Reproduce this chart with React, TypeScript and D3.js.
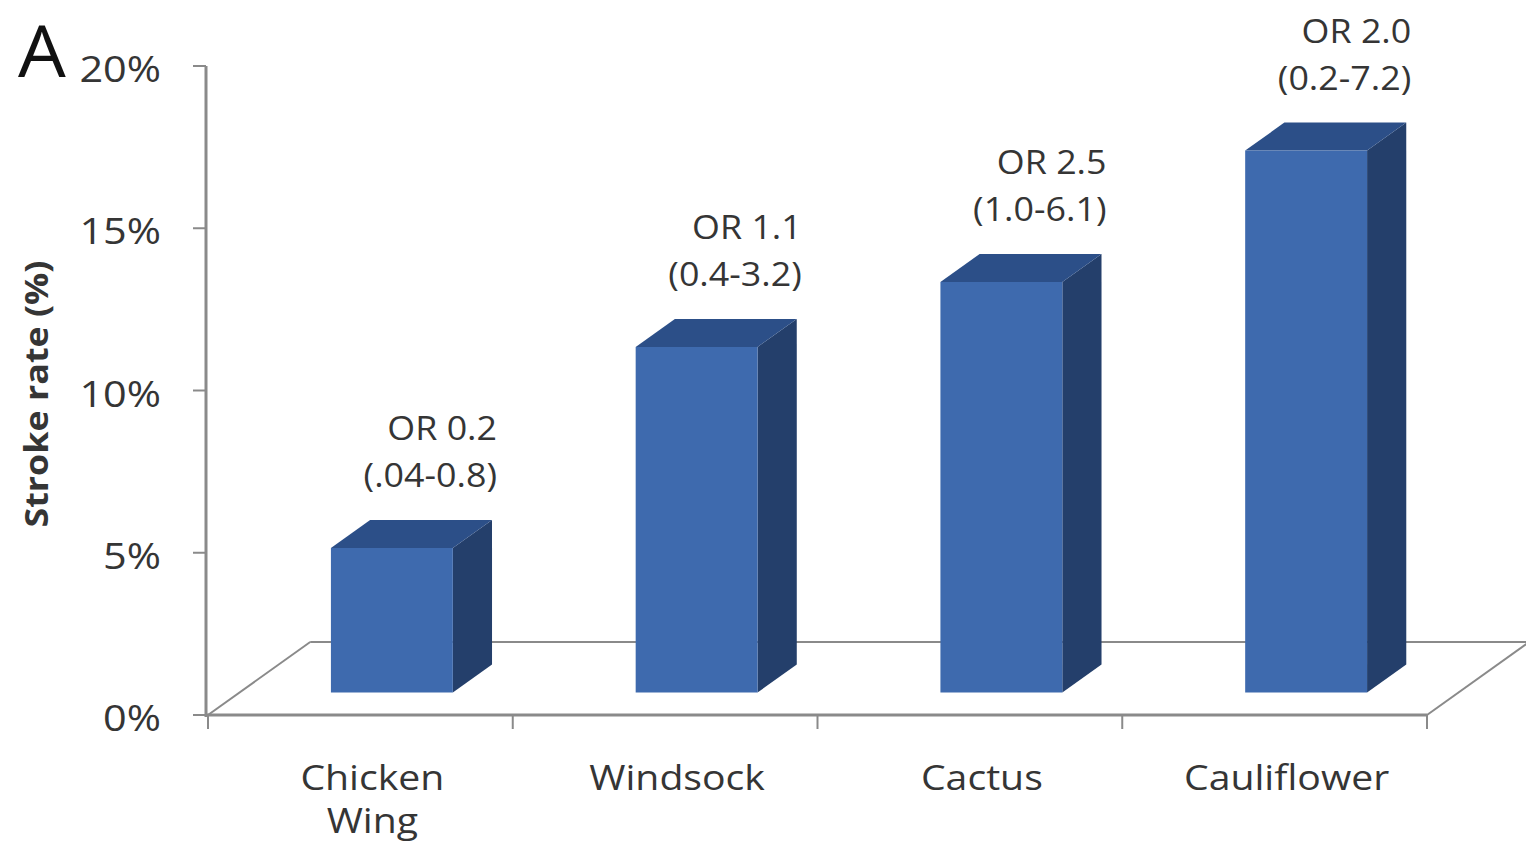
import * as d3 from 'd3';

// Stroke rate by bar shape, with odds ratios
const categories = ['Chicken Wing', 'Windsock', 'Cactus', 'Cauliflower'];
const categoryLines = [['Chicken', 'Wing'], ['Windsock'], ['Cactus'], ['Cauliflower']];
const strokeRates = [4.45, 10.65, 12.65, 16.7];
const oddsRatios = ['OR 0.2', 'OR 1.1', 'OR 2.5', 'OR 2.0'];
const confIntervals = ['(.04-0.8)', '(0.4-3.2)', '(1.0-6.1)', '(0.2-7.2)'];
const yTicks = [0, 5, 10, 15, 20];

const W = 1526;
const H = 852;
const FONT = '"Open Sans", "Noto Sans", sans-serif';
const TEXT = '#353535';
const AXIS = '#8a8a8a';
const SX = 1.12; // text in the source is a bit wide

// oblique 3D: depth moves right and up
const SLANT = 1.4;
const FLOOR_DEPTH = 73;
const BAR_FRONT = 22.5;
const BAR_BACK = 50.5;

const x = d3.scaleBand().domain(categories).range([208, 1427]).padding(0);
const y = d3.scaleLinear().domain([0, 20]).range([715, 66]);

const proj = (px: number, v: number, d: number): [number, number] => [px + SLANT * d, y(v) - d];
const poly = (pts: [number, number][]) => pts.map(p => p.join(',')).join(' ');

function Txt(props: any) {
  const { x: tx, y: ty, anchor = 'middle', size, weight = 'normal', fill = TEXT, rotate = 0, sx = SX, children } = props;
  return (
    <text
      transform={`translate(${tx},${ty}) rotate(${rotate}) scale(${sx},1)`}
      textAnchor={anchor}
      fontFamily={FONT}
      fontSize={size}
      fontWeight={weight}
      fill={fill}
    >
      {children}
    </text>
  );
}

export default function App() {
  const bw = x.bandwidth();
  const barW = bw * 0.4;
  const back = (px: number) => proj(px, 0, FLOOR_DEPTH);

  return (
    <svg width={W} height={H} style={{ position: 'absolute', left: 0, top: 0, background: '#fff' }}>
      {/* floor */}
      <g stroke={AXIS} strokeWidth={2} fill="none">
        <line x1={back(208)[0]} y1={back(208)[1]} x2={back(1427)[0]} y2={back(1427)[1]} />
        <line x1={208} y1={y(0)} x2={back(208)[0]} y2={back(208)[1]} />
        <line x1={1427} y1={y(0)} x2={back(1427)[0]} y2={back(1427)[1]} />
      </g>

      {/* bars */}
      {categories.map((c, i) => {
        const cx = x(c)! + bw / 2;
        const x0 = cx - barW / 2;
        const x1 = cx + barW / 2;
        const v = strokeRates[i];
        const front = poly([proj(x0, 0, BAR_FRONT), proj(x1, 0, BAR_FRONT), proj(x1, v, BAR_FRONT), proj(x0, v, BAR_FRONT)]);
        const top = poly([proj(x0, v, BAR_FRONT), proj(x1, v, BAR_FRONT), proj(x1, v, BAR_BACK), proj(x0, v, BAR_BACK)]);
        const side = poly([proj(x1, 0, BAR_FRONT), proj(x1, 0, BAR_BACK), proj(x1, v, BAR_BACK), proj(x1, v, BAR_FRONT)]);
        const [lx, ly] = proj(x1, v, BAR_BACK);
        return (
          <g key={c}>
            <polygon points={side} fill="#243f6b" />
            <polygon points={top} fill="#2c4f88" />
            <polygon points={front} fill="#3e6aae" />
            <Txt x={lx + 5} y={ly - 80} anchor="end" size={32}>{oddsRatios[i]}</Txt>
            <Txt x={lx + 5} y={ly - 33} anchor="end" size={32}>{confIntervals[i]}</Txt>
          </g>
        );
      })}

      {/* x axis */}
      <g stroke={AXIS} strokeWidth={3}>
        <line x1={206} y1={y(0)} x2={1427} y2={y(0)} />
        {[...categories.map(c => x(c)!), 1427].map((t, i) => (
          <line key={i} x1={t} y1={y(0)} x2={t} y2={y(0) + 14} strokeWidth={2} />
        ))}
      </g>
      {categories.map((c, i) =>
        categoryLines[i].map((line, j) => (
          <Txt key={c + j} x={x(c)! + bw / 2 + 12} y={790 + j * 43} size={35}>{line}</Txt>
        ))
      )}

      {/* y axis */}
      <g stroke={AXIS} strokeWidth={3}>
        <line x1={206} y1={y(20)} x2={206} y2={y(0) + 2} />
        {yTicks.map(t => (
          <line key={t} x1={193} y1={y(t)} x2={206} y2={y(t)} strokeWidth={2} />
        ))}
      </g>
      {yTicks.map(t => (
        <Txt key={t} x={161} y={y(t) + 16} anchor="end" size={37}>{`${t}%`}</Txt>
      ))}
      <Txt x={48} y={394} rotate={-90} size={32} weight="bold" sx={1.12}>Stroke rate (%)</Txt>

      <Txt x={18} y={77} anchor="start" size={72} fill="#111" sx={1.05}>A</Txt>
    </svg>
  );
}
